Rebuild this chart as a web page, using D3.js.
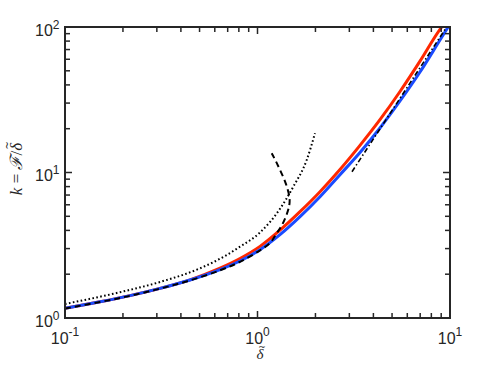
<!DOCTYPE html>
<html><head><meta charset="utf-8">
<script src="https://cdn.jsdelivr.net/npm/d3@7"></script>
<style>body{margin:0;background:#fff} svg{display:block}</style>
</head><body>
<script>
// ---- data ----
const redX  = [0.1, 0.152, 0.2177, 0.3115, 0.4461, 0.6387, 0.8111, 1.0304, 1.3089, 1.663, 2.1121, 2.6827, 3.4076, 4.3277, 5.4996, 6.9856, 8.873, 9.054];
const redY  = [1.166, 1.292, 1.4253, 1.5973, 1.83, 2.2025, 2.5645, 3.1053, 4.0123, 5.3778, 7.3799, 10.486, 15.357, 23.062, 36.045, 58.3, 96.43, 100];
const blueX = [0.1, 0.152, 0.2177, 0.3115, 0.4461, 0.6387, 0.8111, 1.0304, 1.3089, 1.663, 2.1121, 2.6827, 3.4076, 4.3277, 5.4996, 6.9856, 8.873, 9.78];
const blueY = [1.166, 1.292, 1.4253, 1.5973, 1.8246, 2.1508, 2.4647, 2.9475, 3.7374, 4.97, 6.8189, 9.6577, 13.724, 20.224, 31.007, 49.06, 81.41, 100];
const dotX  = [0.1, 0.19307, 0.31147, 0.50283, 0.69183, 0.81113, 1.0304, 1.3089, 1.5346, 1.8012, 1.9887];
const dotY  = [1.2484, 1.5044, 1.7679, 2.196, 2.7103, 3.0905, 3.8698, 5.6304, 7.9876, 12.189, 18.6];
const dashX = [0.1, 0.152, 0.2177, 0.3115, 0.4461, 0.6387, 0.8111, 1.0304, 1.1612, 1.2584, 1.3406, 1.4149, 1.4631, 1.4666, 1.4371, 1.3814, 1.3089, 1.2478, 1.1852];
const dashY = [1.1621, 1.2882, 1.4208, 1.5922, 1.8131, 2.1271, 2.4336, 2.9196, 3.2766, 3.8211, 4.3573, 5.1056, 5.9785, 6.6795, 7.5808, 8.8774, 10.403, 11.904, 13.551];
const ddX   = [3.0967, 9.42];
const ddY   = [10.127, 96.12];
const xTickVals = [0.1, 1, 10];
const xTickExp  = ["-1", "0", "1"];
const yTickVals = [1, 10, 100];
const yTickExp  = ["0", "1", "2"];

// ---- layout ----
const W = 498, H = 374;
const L = 65, R = 450, T = 27, B = 318;
const ink = "#262626";
const serif = "'Liberation Serif', 'DejaVu Serif', serif";
const tildeFont = "'DejaVu Sans', sans-serif";

const svg = d3.select("body").append("svg").attr("width", W).attr("height", H)
  .style("font-family", "'Liberation Sans', Arial, Helvetica, sans-serif");

const x = d3.scaleLog().domain([0.1, 10]).range([L, R]);
const y = d3.scaleLog().domain([1, 100]).range([B, T]);

svg.append("clipPath").attr("id", "c").append("rect")
  .attr("x", L).attr("y", T - 2).attr("width", R - L + 2).attr("height", B - T + 2);

const lineM = d3.line().x(d => x(d[0])).y(d => y(d[1])).curve(d3.curveMonotoneX);
const lineC = d3.line().x(d => x(d[0])).y(d => y(d[1])).curve(d3.curveCatmullRom.alpha(0.5));
const lineL = d3.line().x(d => x(d[0])).y(d => y(d[1]));
const zip = (a, b) => a.map((v, i) => [v, b[i]]);

const g = svg.append("g").attr("clip-path", "url(#c)");
g.append("path").datum(zip(redX, redY)).attr("d", lineM)
  .attr("fill", "none").attr("stroke", "#ff2800").attr("stroke-width", 3);
g.append("path").datum(zip(blueX, blueY)).attr("d", lineM)
  .attr("fill", "none").attr("stroke", "#1a4bff").attr("stroke-width", 3);
g.append("path").datum(zip(dashX, dashY)).attr("d", lineC)
  .attr("fill", "none").attr("stroke", "#000").attr("stroke-width", 2)
  .attr("stroke-dasharray", "6,4");
g.append("path").datum(zip(dotX, dotY)).attr("d", lineM)
  .attr("fill", "none").attr("stroke", "#000").attr("stroke-width", 2)
  .attr("stroke-dasharray", "1.6,2.4");
g.append("path").datum(zip(ddX, ddY)).attr("d", lineL)
  .attr("fill", "none").attr("stroke", "#000").attr("stroke-width", 1.6)
  .attr("stroke-dasharray", "5,2.5,1.5,2.5");

// ---- axes (inner ticks on all four sides) ----
const xMinor = [];
[0.1, 1].forEach(d => { for (let k = 2; k <= 9; k++) xMinor.push(d * k); });
const yMinor = [];
[1, 10].forEach(d => { for (let k = 2; k <= 9; k++) yMinor.push(d * k); });

const ax = svg.append("g").attr("stroke", ink).attr("stroke-width", 1.5);
function xt(vals, len) {
  vals.forEach(v => {
    ax.append("line").attr("x1", x(v)).attr("x2", x(v)).attr("y1", B).attr("y2", B - len);
    ax.append("line").attr("x1", x(v)).attr("x2", x(v)).attr("y1", T).attr("y2", T + len);
  });
}
function yt(vals, len) {
  vals.forEach(v => {
    ax.append("line").attr("y1", y(v)).attr("y2", y(v)).attr("x1", L).attr("x2", L + len);
    ax.append("line").attr("y1", y(v)).attr("y2", y(v)).attr("x1", R).attr("x2", R - len);
  });
}
xt(xMinor, 5); xt(xTickVals, 7);
yt(yMinor, 5); yt(yTickVals, 7);
svg.append("rect").attr("x", L).attr("y", T).attr("width", R - L).attr("height", B - T)
  .attr("fill", "none").attr("stroke", ink).attr("stroke-width", 2);

// tick labels
xTickVals.forEach((v, i) => {
  const t = svg.append("text").attr("x", x(v)).attr("y", B + 25.5)
    .attr("text-anchor", "middle").attr("fill", ink).attr("font-size", 16);
  t.append("tspan").text("10");
  t.append("tspan").attr("dy", -7.5).attr("font-size", 12).text(xTickExp[i]);
});
yTickVals.forEach((v, i) => {
  const t = svg.append("text").attr("x", L - 5.5).attr("y", y(v) + 8.5)
    .attr("text-anchor", "end").attr("fill", ink).attr("font-size", 16);
  t.append("tspan").text("10");
  t.append("tspan").attr("dy", -7).attr("font-size", 12).text(yTickExp[i]);
});

// x label: delta with tilde
svg.append("text").attr("x", 260).attr("y", 359).attr("text-anchor", "middle")
  .attr("font-family", serif).attr("font-style", "italic").attr("font-size", 15)
  .attr("fill", ink).text("δ");
svg.append("text").attr("x", 262).attr("y", 349.5).attr("text-anchor", "middle")
  .attr("font-family", tildeFont).attr("font-size", 9).attr("fill", ink).text("~");

// y label, rotated
const yg = svg.append("g").attr("transform", "translate(22,169) rotate(-90)");
const yl = yg.append("text").attr("x", 0).attr("y", 0)
  .attr("text-anchor", "middle").attr("font-size", 17).attr("fill", ink)
  .attr("font-family", serif);
yl.append("tspan").attr("font-style", "italic").text("k");
yl.append("tspan").text(" = ");
yl.append("tspan").attr("font-style", "italic").text("ℱ");
yl.append("tspan").text("/");
yl.append("tspan").attr("font-style", "italic").text("δ");
const n = yl.text().length;
const ext = yl.node().getExtentOfChar(n - 1);
yg.append("text").attr("x", ext.x + ext.width / 2 + 1.5).attr("y", -11)
  .attr("text-anchor", "middle").attr("font-family", tildeFont).attr("font-size", 10)
  .attr("fill", ink).text("~");
</script>
</body></html>
